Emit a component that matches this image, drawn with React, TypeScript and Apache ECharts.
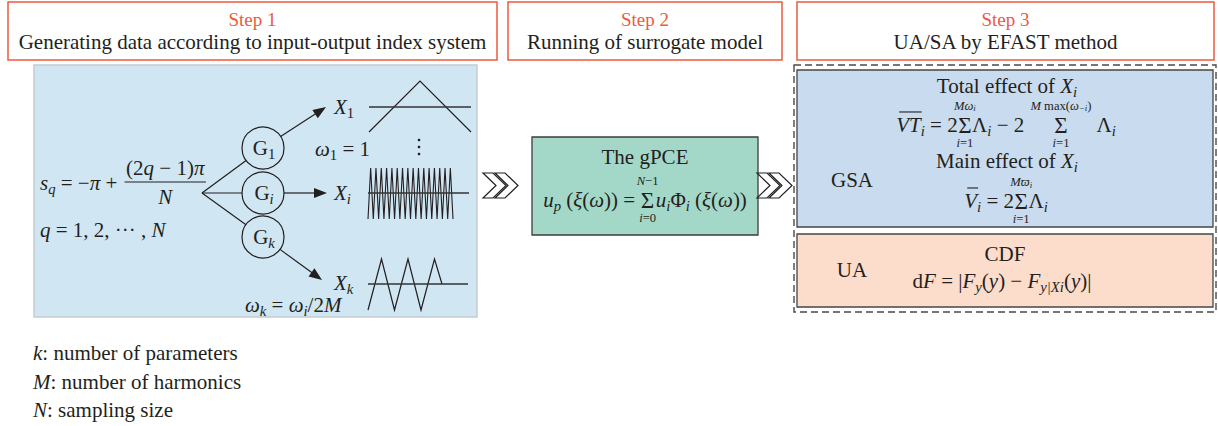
import React, { useEffect, useRef } from 'react';
import * as echarts from 'echarts';

const FONT = 'Liberation Serif';
const INK = '#231f20';
const RED = '#ec5a3f';
const S = 21;

const STEP_LABELS = ['Step 1', 'Step 2', 'Step 3'];
const STEP_TEXTS = [
  'Generating data according to input-output index system',
  'Running of surrogate model',
  'UA/SA by EFAST method',
];
const GEN_SUBS = ['1', 'i', 'k'];
const LEGEND_SYMS = ['k', 'M', 'N'];
const LEGEND_DESCS = [': number of parameters', ': number of harmonics', ': sampling size'];
const GSA_TITLES = ['Total effect of ', 'Main effect of '];
const SIDE_LABELS = ['GSA', 'UA'];
const UA_TITLE = 'CDF';
const GPCE_TITLE = 'The gPCE';
const XI_CYCLES = 16;
const XK_PEAKS = 3;

type Seg = {
  t?: string; i?: boolean; s?: number; dy?: number; over?: boolean; sp?: number;
  sum?: { up: Seg[]; lo: Seg[]; upDy?: number; loDy?: number; tight?: boolean };
};

let _ctx: CanvasRenderingContext2D | null = null;
function mw(t: string, size: number, italic: boolean) {
  if (!_ctx) _ctx = document.createElement('canvas').getContext('2d');
  _ctx!.font = `${italic ? 'italic ' : ''}${size}px "${FONT}"`;
  return _ctx!.measureText(t).width;
}

function txt(x: number, y: number, t: string, size: number, italic = false, align = 'left', fill = INK) {
  return {
    type: 'text', x, y, silent: true, z: 10,
    style: {
      text: t, fontSize: size, fontFamily: FONT, fontStyle: italic ? 'italic' : 'normal', fill,
      align, textAlign: align, verticalAlign: 'middle', textVerticalAlign: 'middle',
    },
  };
}
function line(x1: number, y1: number, x2: number, y2: number, lw = 1.2, stroke = INK) {
  return { type: 'line', silent: true, z: 5, shape: { x1, y1, x2, y2 }, style: { stroke, lineWidth: lw } };
}

function layout(segs: Seg[], size: number): { w: number; draw: (x: number, y: number) => any[] } {
  const items = segs.map((sg) => {
    if (sg.sp) return { w: sg.sp, draw: (_x: number, _y: number) => [] as any[] };
    if (sg.sum) {
      const up = layout(sg.sum.up, size * 0.6);
      const lo = layout(sg.sum.lo, size * 0.6);
      const ss = size * 1.1;
      const sw = mw('Σ', ss, false);
      const w = sg.sum.tight ? sw + 1 : Math.max(sw, up.w, lo.w) + 2;
      const upDy = sg.sum.upDy ?? -0.92;
      const loDy = sg.sum.loDy ?? 0.87;
      return {
        w,
        draw: (x: number, y: number) => [
          txt(x + w / 2 - sw / 2, y, 'Σ', ss, false),
          ...up.draw(x + w / 2 - up.w / 2, y + upDy * size),
          ...lo.draw(x + w / 2 - lo.w / 2, y + loDy * size),
        ],
      };
    }
    const fs = size * (sg.s ?? 1);
    const w = mw(sg.t!, fs, !!sg.i);
    return {
      w,
      draw: (x: number, y: number) => {
        const e: any[] = [txt(x, y + (sg.dy ?? 0) * size, sg.t!, fs, !!sg.i)];
        if (sg.over) e.push(line(x + 3, y - 0.62 * size, x + w + 1, y - 0.62 * size, 1.1));
        return e;
      },
    };
  });
  const w = items.reduce((a, b) => a + b.w, 0);
  return {
    w,
    draw: (x: number, y: number) => {
      let cx = x;
      const out: any[] = [];
      for (const it of items) {
        out.push(...it.draw(cx, y));
        cx += it.w;
      }
      return out;
    },
  };
}
const sub = (t: string, i = true): Seg => ({ t, i, s: 0.7, dy: 0.3 });
const subL = (t: string, i = true): Seg => ({ t, i, s: 0.7, dy: 0.2 });
const runAt = (x: number, y: number, segs: Seg[], size = S) => layout(segs, size).draw(x, y);
const runC = (cx: number, y: number, segs: Seg[], size = S) => {
  const l = layout(segs, size);
  return l.draw(cx - l.w / 2, y);
};

function arrow(x1: number, y1: number, x2: number, y2: number) {
  const dx = x2 - x1, dy = y2 - y1;
  const len = Math.hypot(dx, dy);
  const ux = dx / len, uy = dy / len;
  const hl = 13, hw = 5;
  const bx = x2 - ux * hl, by = y2 - uy * hl;
  return [
    line(x1, y1, bx + ux * 2, by + uy * 2, 1.2),
    {
      type: 'polygon', silent: true, z: 6,
      shape: { points: [[x2, y2], [bx - uy * hw, by + ux * hw], [bx + uy * hw, by - ux * hw]] },
      style: { fill: INK },
    },
  ];
}

function chevrons(x0: number, yc: number) {
  const one = (x: number) => ({
    type: 'polygon', silent: true, z: 6,
    shape: { points: [[x, yc - 12.5], [x + 10, yc - 12.5], [x + 23, yc], [x + 10, yc + 12.5], [x, yc + 12.5], [x + 13, yc]] },
    style: { fill: '#ffffff', stroke: INK, lineWidth: 1.2 },
  });
  return [one(x0), one(x0 + 12)];
}

function buildElements() {
  const els: any[] = [];
  const rect = (x: number, y: number, w: number, h: number, fill: string, stroke: string, lw = 1, dash?: number[]) => ({
    type: 'rect', silent: true, z: 1, shape: { x, y, width: w, height: h },
    style: { fill, stroke, lineWidth: lw, lineDash: dash },
  });

  // Step header boxes
  const stepBoxes = [[8, 2, 489, 58], [508, 2, 274, 58], [797, 2, 417, 58]];
  stepBoxes.forEach(([x, y, w, h], k) => {
    els.push(rect(x, y, w, h, '#ffffff', RED, 1.5));
    els.push(txt(x + w / 2, 19, STEP_LABELS[k], 19, false, 'center', RED));
    els.push(txt(x + w / 2, 42, STEP_TEXTS[k], S, false, 'center'));
  });

  // Panels
  els.push(rect(34, 65, 443, 252, '#d0e6f2', '#c3ccd2', 1.5));
  els.push(rect(532, 137, 226, 98, '#a3d8c8', '#3d3d3d', 1.3));
  els.push(rect(794, 65, 422, 247, '#ffffff', '#4a4a4a', 1.4, [7, 4]));
  els.push(rect(797, 70, 416, 157, '#c9dbee', '#454545', 1.3));
  els.push(rect(797, 234, 416, 73, '#fcdccb', '#454545', 1.3));

  // Chevrons
  els.push(...chevrons(483, 185.5));
  els.push(...chevrons(757, 185.5));

  // ---- Step 1 content ----
  const sq = layout([{ t: 's', i: true }, sub('q'), { t: ' = −' }, { t: 'π', i: true }, { t: ' + ' }], S);
  els.push(...sq.draw(40, 183));
  const num = layout([{ t: '(2' }, { t: 'q', i: true }, { t: ' − 1)' }, { t: 'π', i: true }], S);
  const fx = 40 + sq.w + 2;
  const fw = num.w + 3;
  els.push(...num.draw(fx + fw / 2 - num.w / 2, 168));
  els.push(line(fx, 182, fx + fw, 182, 1.1));
  els.push(txt(fx + fw / 2, 197, 'N', S, true, 'center'));
  els.push(...runAt(40, 230, [{ t: 'q', i: true }, { t: ' = 1, 2, ··· , ' }, { t: 'N', i: true }]));

  // Generators
  const bx = 202, by = 193, r = 21, gx = 263;
  const gy = [148, 193, 237];
  gy.forEach((cy, k) => {
    const dx = gx - bx, dy = cy - by;
    const len = Math.hypot(dx, dy);
    els.push(line(bx, by, gx - (r * dx) / len, cy - (r * dy) / len, 1.2));
    els.push({ type: 'circle', silent: true, z: 4, shape: { cx: gx, cy, r }, style: { fill: 'none', stroke: INK, lineWidth: 1.2 } });
    els.push(...runC(gx + 1, cy, [{ t: 'G' }, sub(GEN_SUBS[k], GEN_SUBS[k] !== '1')]));
  });
  const tips = [[326, 107], [327, 193], [322, 280]];
  tips.forEach(([tx, ty], k) => {
    const dx = tx - gx, dy = ty - gy[k];
    const len = Math.hypot(dx, dy);
    els.push(...arrow(gx + (r * dx) / len, gy[k] + (r * dy) / len, tx, ty));
  });
  const xl = [107, 193, 283];
  xl.forEach((y, k) => {
    els.push(...runAt(334, y, [{ t: 'X', i: true }, sub(GEN_SUBS[k], GEN_SUBS[k] !== '1')]));
  });
  els.push(...runAt(315, 149, [{ t: 'ω', i: true }, sub('1', false), { t: ' = 1' }]));
  els.push(...runAt(245, 305, [{ t: 'ω', i: true }, sub('k'), { t: ' = ' }, { t: 'ω', i: true }, sub('i'), { t: '/2' }, { t: 'M', i: true }]));
  [140, 147, 154].forEach((y) => els.push({ type: 'circle', silent: true, z: 5, shape: { cx: 419, cy: y, r: 1.3 }, style: { fill: INK } }));

  // Waveforms
  els.push({ type: 'polyline', silent: true, z: 5, shape: { points: [[369, 132], [420, 81], [471, 132]] }, style: { stroke: INK, lineWidth: 1.2, fill: 'none' } });
  els.push(line(369, 107, 471, 107, 1.3, '#333'));
  const xiPts: number[][] = [];
  for (let j = 0; j <= XI_CYCLES * 2; j++) xiPts.push([368 + (j * 85) / (XI_CYCLES * 2), j % 2 === 0 ? 219 : 168]);
  els.push({ type: 'polyline', silent: true, z: 5, shape: { points: xiPts }, style: { stroke: INK, lineWidth: 1.1, fill: 'none' } });
  els.push(line(368, 193, 469, 193, 1.3, '#333'));
  const xkPts: number[][] = [[368, 310]];
  for (let j = 0; j < XK_PEAKS; j++) {
    const x = 368 + j * 26.5;
    xkPts.push([x + 13.5, 259]);
    if (j < XK_PEAKS - 1) xkPts.push([x + 26.5, 310]);
  }
  xkPts.push([442, 284]);
  els.push({ type: 'polyline', silent: true, z: 5, shape: { points: xkPts }, style: { stroke: INK, lineWidth: 1.2, fill: 'none' } });
  els.push(line(368, 284, 468, 284, 1.3, '#333'));

  // ---- Step 2 ----
  els.push(txt(645, 157, GPCE_TITLE, S, false, 'center'));
  els.push(...runC(645, 200, [
    { t: 'u', i: true }, sub('p'), { t: ' (' }, { t: 'ξ', i: true }, { t: '(' }, { t: 'ω', i: true }, { t: ')) = ' },
    { sum: { up: [{ t: 'N', i: true }, { t: '−1' }], lo: [{ t: 'i', i: true }, { t: '=0' }], tight: true } },
    { sp: 1 }, { t: 'u', i: true }, sub('i'), { t: 'Φ' }, sub('i'), { t: ' (' }, { t: 'ξ', i: true }, { t: '(' }, { t: 'ω', i: true }, { t: '))' },
  ]));

  // ---- Step 3 ----
  els.push(...runC(1007, 85.5, [{ t: GSA_TITLES[0] }, { t: 'X', i: true }, sub('i')]));
  els.push(...runC(1006, 125, [
    { t: 'VT', i: true, over: true }, sub('i'), { t: ' = 2' },
    { sum: { up: [{ t: 'M', i: true }, { t: 'ω', i: true }, subL('i')], lo: [{ t: 'i', i: true }, { t: '=1' }], tight: true } },
    { t: 'Λ' }, sub('i'), { t: ' − 2 ' },
    { sum: { up: [{ t: 'M', i: true }, { t: ' max(' }, { t: 'ω', i: true }, subL('−i'), { t: ')' }], lo: [{ t: 'i', i: true }, { t: '=1' }] } },
    { sp: 4 }, { t: 'Λ' }, sub('i'),
  ]));
  els.push(...runC(1007, 161, [{ t: GSA_TITLES[1] }, { t: 'X', i: true }, sub('i')]));
  els.push(...runC(1006, 201, [
    { t: 'V', i: true, over: true }, sub('i'), { t: ' = 2' },
    { sum: { up: [{ t: 'M', i: true }, { t: 'ϖ', i: true }, subL('i')], lo: [{ t: 'i', i: true }, { t: '=1' }], tight: true, upDy: -0.9 } },
    { t: 'Λ' }, sub('i'),
  ]));
  els.push(txt(852, 180, SIDE_LABELS[0], S, false, 'center'));
  els.push(txt(852, 270, SIDE_LABELS[1], S, false, 'center'));
  els.push(txt(1005, 254, UA_TITLE, S, false, 'center'));
  els.push(...runC(1002, 281, [
    { t: 'd' }, { t: 'F', i: true }, { t: ' = |' }, { t: 'F', i: true }, sub('y'), { t: '(' }, { t: 'y', i: true }, { t: ') − ' },
    { t: 'F', i: true }, sub('y|Xi'), { t: '(' }, { t: 'y', i: true }, { t: ')|' },
  ]));

  // Legend
  LEGEND_SYMS.forEach((sym, k) => {
    els.push(...runAt(33, 353 + k * 28.5, [{ t: sym, i: true }, { t: LEGEND_DESCS[k] }]));
  });
  return els;
}

export default function App() {
  const ref = useRef<HTMLDivElement>(null);
  useEffect(() => {
    document.body.style.margin = '0';
    const chart = echarts.init(ref.current!, undefined, { renderer: 'svg' });
    chart.setOption({ animation: false, backgroundColor: '#ffffff', graphic: { elements: buildElements() } });
    return () => chart.dispose();
  }, []);
  return <div ref={ref} style={{ position: 'absolute', left: 0, top: 0, width: 1218, height: 426 }} />;
}
